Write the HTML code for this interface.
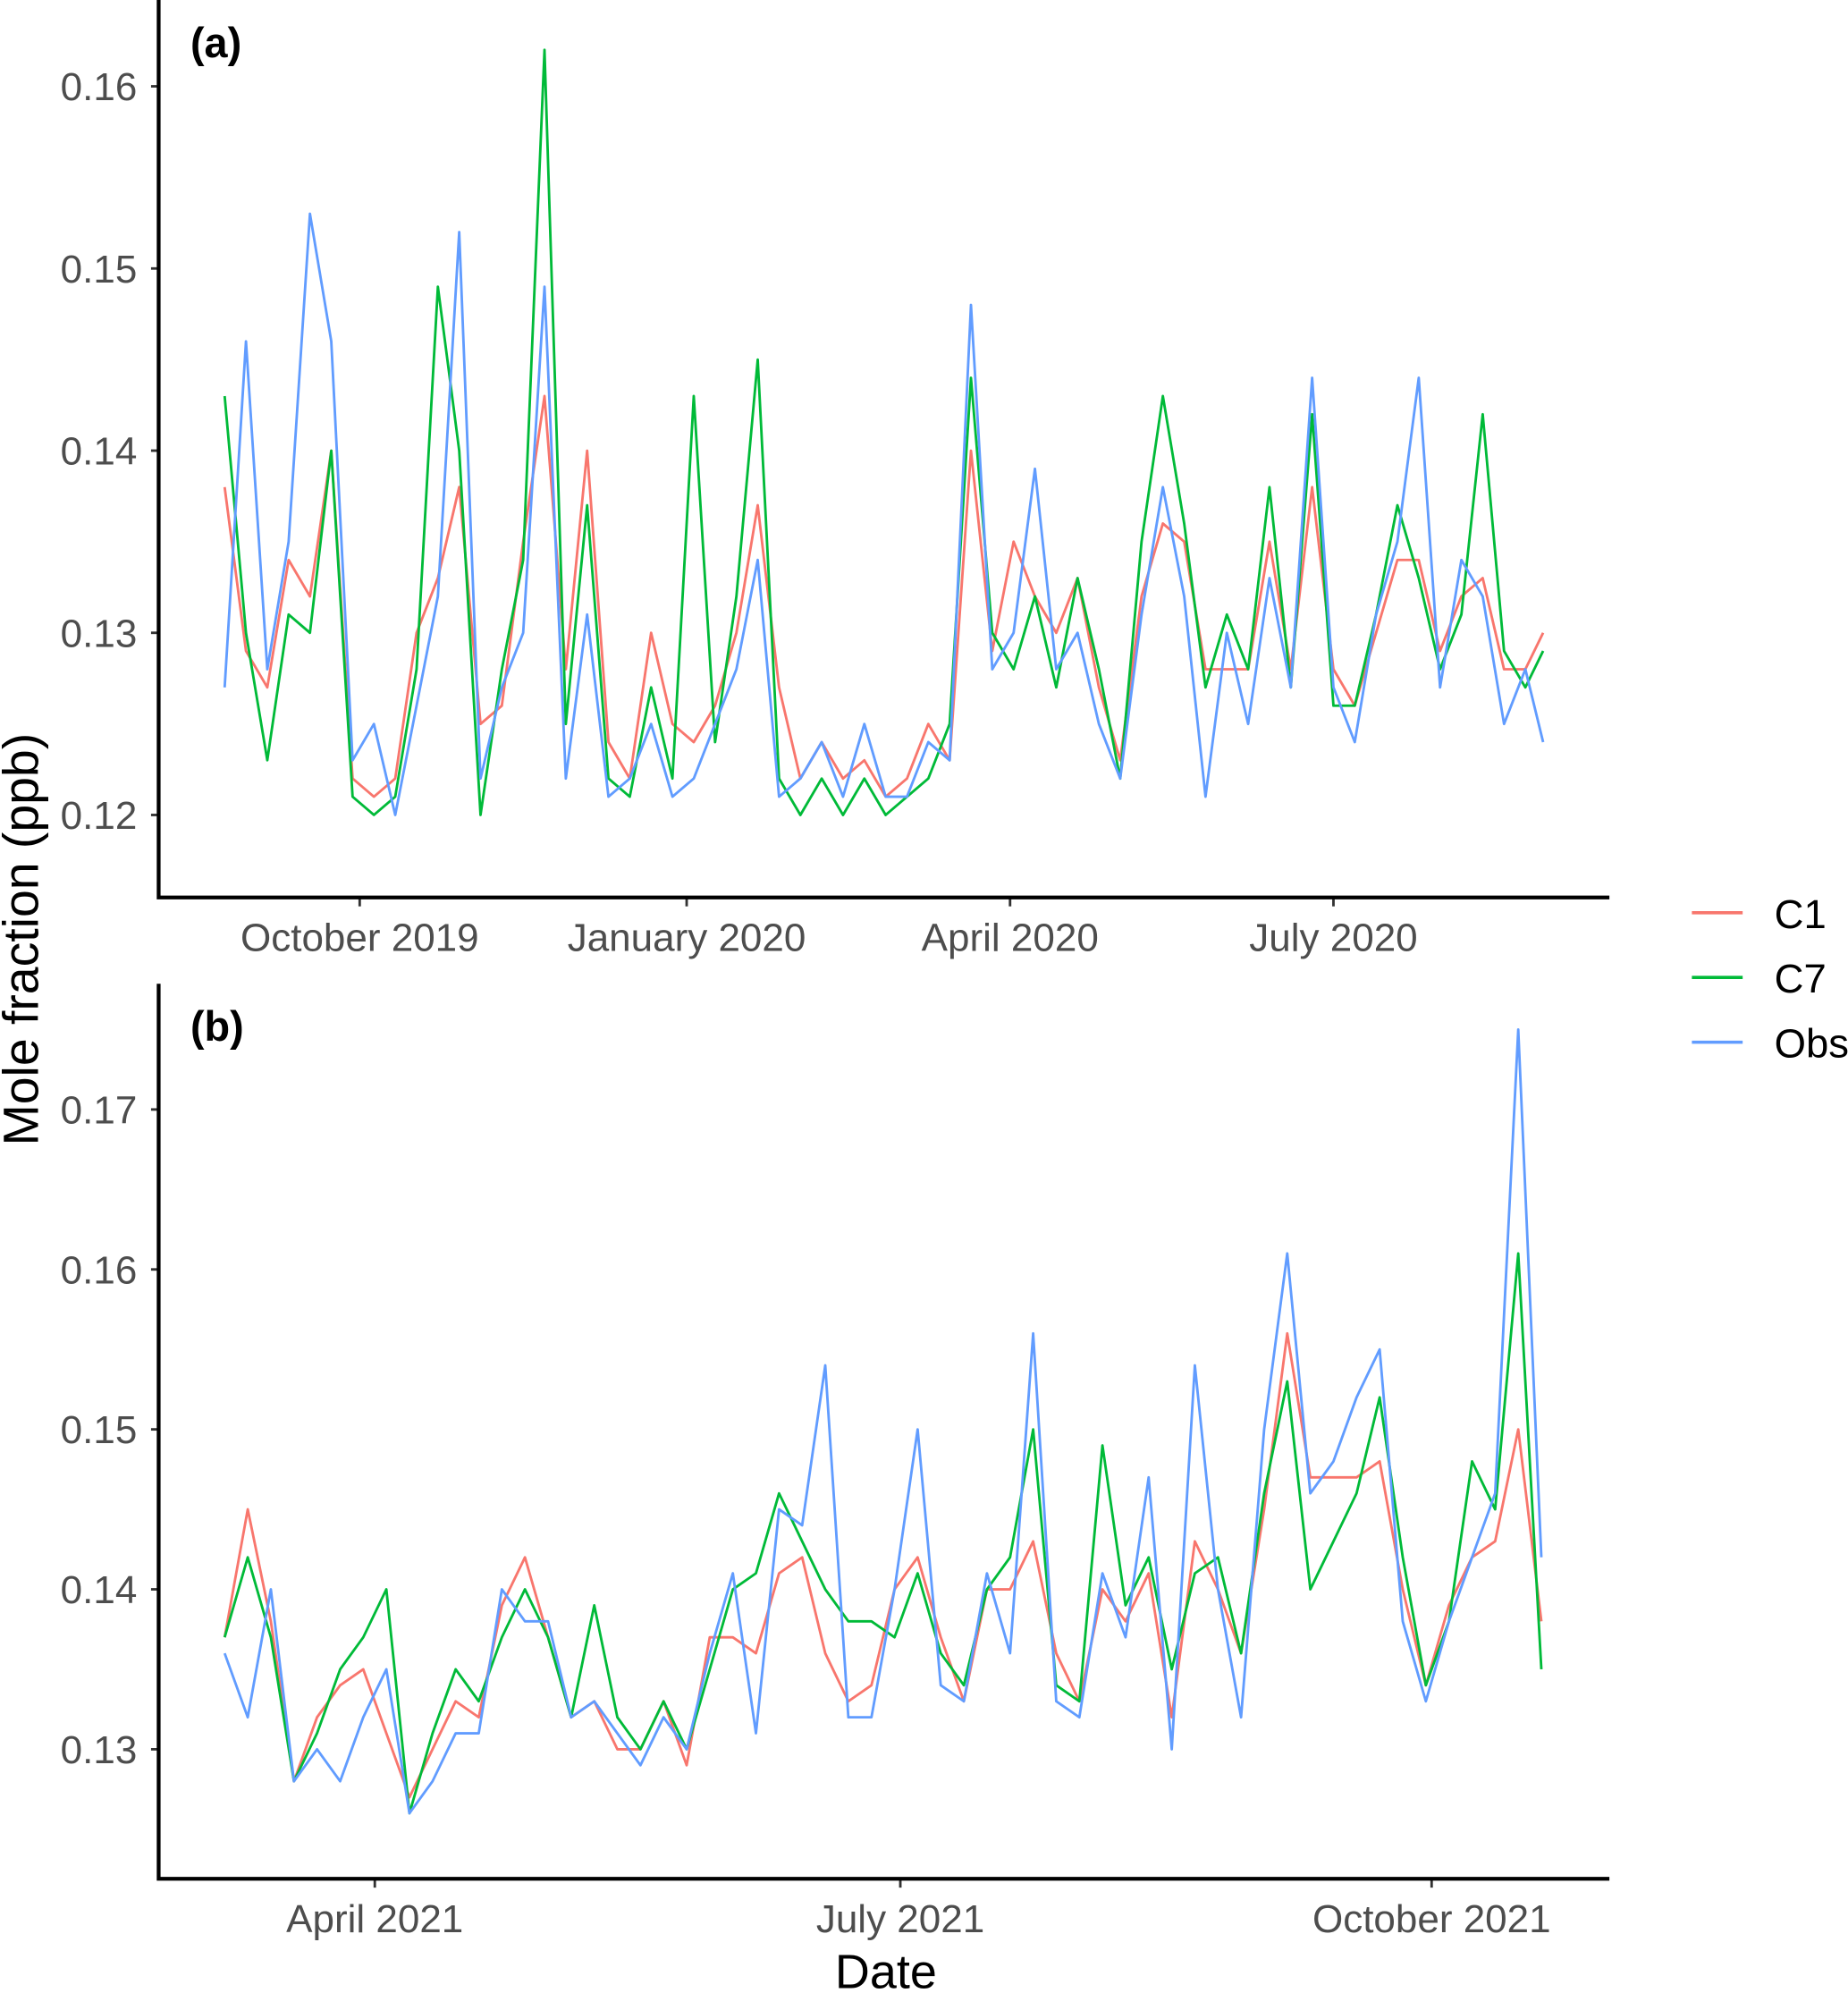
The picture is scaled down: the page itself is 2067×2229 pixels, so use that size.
<!DOCTYPE html>
<html><head><meta charset="utf-8"><style>
html,body{margin:0;padding:0;background:#fff;}
svg{display:block;}
text{font-family:"Liberation Sans",sans-serif;}
</style></head><body>
<svg id="chart" width="2067" height="2229" viewBox="0 0 1456 1570" preserveAspectRatio="none" xmlns="http://www.w3.org/2000/svg"></svg>
<script>
// Panel (a): days since 2019-08-24
const daysA = [0,6,12,18,24,30,36,42,48,54,60,66,72,78,84,90,96,102,108,114,120,126,132,138,144,150,156,162,168,174,180,186,192,198,204,210,216,222,228,234,240,246,252,258,264,270,276,282,288,294,300,306,312,318,324,330,336,342,348,354,360,366,371];
const obsA = [.127,.146,.128,.135,.153,.146,.123,.125,.120,.126,.132,.152,.122,.127,.130,.149,.122,.131,.121,.122,.125,.121,.122,.125,.128,.134,.121,.122,.124,.121,.125,.121,.121,.124,.123,.148,.128,.130,.139,.128,.130,.125,.122,.131,.138,.132,.121,.130,.125,.133,.127,.144,.127,.124,.131,.135,.144,.127,.134,.132,.125,.128,.124];
const c1A = [.138,.129,.127,.134,.132,.140,.122,.121,.122,.130,.133,.138,.125,.126,.135,.143,.128,.140,.124,.122,.130,.125,.124,.126,.130,.137,.127,.122,.124,.122,.123,.121,.122,.125,.123,.140,.129,.135,.132,.130,.133,.127,.123,.132,.136,.135,.128,.128,.128,.135,.128,.138,.128,.126,.130,.134,.134,.129,.132,.133,.128,.128,.130];
const c7A = [.143,.130,.123,.131,.130,.140,.121,.120,.121,.128,.149,.140,.120,.128,.134,.162,.125,.137,.122,.121,.127,.122,.143,.124,.132,.145,.122,.120,.122,.120,.122,.120,.121,.122,.125,.144,.130,.128,.132,.127,.133,.128,.122,.135,.143,.136,.127,.131,.128,.138,.127,.142,.126,.126,.131,.137,.133,.128,.131,.142,.129,.127,.129];
const yTicksA = [0.12,0.13,0.14,0.15,0.16];
const xTickDaysA = [38,130,221,312];
const xTickLabelsA = ["October 2019","January 2020","April 2020","July 2020"];
// Panel (b): days since 2021-03-06
const daysB = [0,4,8,12,16,20,24,28,32,36,40,44,48,52,56,60,64,68,72,76,80,84,88,92,96,100,104,108,112,116,120,124,128,132,136,140,144,148,152,156,160,164,168,172,176,180,184,188,192,196,200,204,208,212,216,220,224,228];
const obsB = [.136,.132,.140,.128,.130,.128,.132,.135,.126,.128,.131,.131,.140,.138,.138,.132,.133,.131,.129,.132,.130,.136,.141,.131,.145,.144,.154,.132,.132,.140,.150,.134,.133,.141,.136,.156,.133,.132,.141,.137,.147,.130,.154,.140,.132,.150,.161,.146,.148,.152,.155,.138,.133,.138,.142,.146,.175,.142];
const c1B = [.137,.145,.138,.128,.132,.134,.135,.131,.127,.130,.133,.132,.139,.142,.137,.132,.133,.130,.130,.133,.129,.137,.137,.136,.141,.142,.136,.133,.134,.140,.142,.137,.133,.140,.140,.143,.136,.133,.140,.138,.141,.132,.143,.140,.136,.145,.156,.147,.147,.147,.148,.140,.134,.139,.142,.143,.150,.138];
const c7B = [.137,.142,.137,.128,.131,.135,.137,.140,.126,.131,.135,.133,.137,.140,.137,.132,.139,.132,.130,.133,.130,.135,.140,.141,.146,.143,.140,.138,.138,.137,.141,.136,.134,.140,.142,.150,.134,.133,.149,.139,.142,.135,.141,.142,.136,.146,.153,.140,.143,.146,.152,.142,.134,.138,.148,.145,.161,.135];
const yTicksB = [0.13,0.14,0.15,0.16,0.17];
const xTickDaysB = [26,117,209];
const xTickLabelsB = ["April 2021","July 2021","October 2021"];

const NS = "http://www.w3.org/2000/svg";
const svg = document.getElementById('chart');
function mk(tag, attrs, parent){const e=document.createElementNS(NS,tag);for(const k in attrs)e.setAttribute(k,attrs[k]);(parent||svg).appendChild(e);return e;}
const colors = {c1:"#F8766D", c7:"#00BA38", obs:"#619CFF"};

function panel(p){
  const g = mk('g',{});
  
  
  const xs = d => 177 + d*p.pxDay;
  const ys = v => p.y0 - (v - p.v0)*p.pxUnit;
  p.yTicks.forEach(t=>{
    const y = ys(t);
    const tk = mk('line',{x1:119,x2:125,y1:y,y2:y,stroke:"#333","stroke-width":2},g);
    
    
    const tx = mk('text',{x:108,y:y+11,"text-anchor":"end","font-size":31,fill:"#4d4d4d"},g);
    tx.textContent = t.toFixed(2);
    
    
  });
  p.xTicks.forEach((d,i)=>{
    const x = xs(d);
    const tk = mk('line',{x1:x,x2:x,y1:p.bottom,y2:p.bottom+7,stroke:"#333","stroke-width":2},g);
    
    
    const tx = mk('text',{x:x,y:p.bottom+42,"text-anchor":"middle","font-size":31,fill:"#4d4d4d"},g);
    tx.textContent = p.xLabels[i];
    
    
  });
  [["c1",p.c1],["c7",p.c7],["obs",p.obs]].forEach(([k,arr])=>{
    const pts = arr.map((v,i)=>xs(p.days[i]).toFixed(1)+","+ys(v).toFixed(1)).join(" ");
    const pl = mk('polyline',{points:pts,fill:"none",stroke:colors[k],"stroke-width":2,"stroke-linejoin":"round"},g);
    
    
  });
  const ax = mk('path',{d:`M125 ${p.top} V${p.bottom} H1268`,fill:"none",stroke:"#000","stroke-width":3},g);
  
  
  const lb = mk('text',{x:150,y:p.top+45,"font-size":33,"font-weight":"bold",fill:"#000"},g);
  lb.textContent = "("+p.id+")";
  
  
}
panel({id:"a",days:daysA,obs:obsA,c1:c1A,c7:c7A,yTicks:yTicksA,xTicks:xTickDaysA,xLabels:xTickLabelsA,pxDay:2.8,y0:642,v0:0.12,pxUnit:14350,top:0,bottom:707});
panel({id:"b",days:daysB,obs:obsB,c1:c1B,c7:c7B,yTicks:yTicksB,xTicks:xTickDaysB,xLabels:xTickLabelsB,pxDay:4.55,y0:1378,v0:0.13,pxUnit:12600,top:775,bottom:1480});

const yt = mk('text',{x:0,y:0,transform:"translate(30,740) rotate(-90)","text-anchor":"middle","font-size":39,fill:"#000"});
yt.textContent = "Mole fraction (ppb)";


const xt = mk('text',{x:698,y:1566,"text-anchor":"middle","font-size":38,fill:"#000"});
xt.textContent = "Date";



const legendKeys = ["c1","c7","obs"];
const legendLabels = ["C1","C7","Obs"];
legendKeys.forEach((k,i)=>{
  const y = 719 + i*51;
  const g = mk('g',{});
  
  
  mk('line',{x1:1333,x2:1373,y1:y,y2:y,stroke:colors[k],"stroke-width":2.5},g);
  const t = mk('text',{x:1398,y:y+12,"font-size":32,fill:"#000"},g);
  t.textContent = legendLabels[i];
});
</script>
</body></html>
